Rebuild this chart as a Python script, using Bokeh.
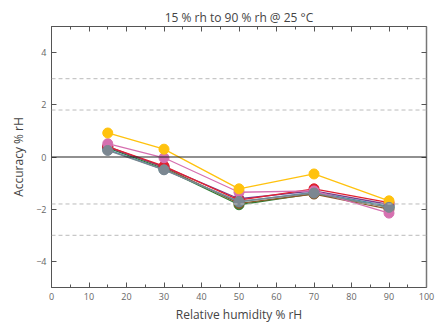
from bokeh.plotting import figure
from bokeh.models import (LinearAxis, Span, Label, SingleIntervalTicker, FixedTicker, Range1d,
                          CustomJSTickFormatter)
from bokeh.embed import file_html
from bokeh.resources import INLINE

humidity = [15, 30, 50, 70, 90]

series_green = [0.35, -0.45, -1.83, -1.40, -1.92]
series_brown = [0.40, -0.40, -1.78, -1.42, -2.00]
series_teal = [0.28, -0.48, -1.72, -1.35, -1.88]
series_purple = [0.38, -0.38, -1.60, -1.30, -1.82]
series_red = [0.40, -0.35, -1.65, -1.22, -1.75]
series_pink = [0.51, -0.03, -1.35, -1.30, -2.15]
series_yellow = [0.92, 0.30, -1.22, -0.65, -1.68]
series_gray = [0.25, -0.49, -1.70, -1.38, -1.93]

series = [series_green, series_brown, series_teal, series_purple,
          series_red, series_pink, series_yellow, series_gray]
colors = ["#2e7d32", "#8b5a2b", "#4a8fa8", "#7b3f8c",
          "#e02030", "#d670b0", "#ffc20e", "#7c8791"]

limit_values = [3, 1.8, -1.8, -3]
limit_labels = ["3", "1.8", "-1.8", "-3"]

left_ticks = [-4, -2, 0, 2, 4]

FONT = "Open Sans"
TXT = "#444444"
AX = "#555555"

p = figure(width=444, height=327, output_backend="svg", toolbar_location=None,
           x_range=Range1d(0, 100), y_range=Range1d(-5, 5),
           title="15 % rh to 90 % rh @ 25 °C",
           min_border_left=51, min_border_right=18, min_border_top=26, min_border_bottom=40)
p.title.align = "center"
p.title.text_font = FONT
p.title.text_font_size = "12px"
p.title.text_font_style = "normal"
p.title.text_color = TXT
p.title.offset = 0
p.title.standoff = 2

p.xgrid.visible = False
p.ygrid.visible = False
p.outline_line_color = None

xt = SingleIntervalTicker(interval=10, num_minor_ticks=2)
yt = FixedTicker(ticks=left_ticks)

for ax in p.xaxis:
    ax.ticker = xt
    ax.axis_label = "Relative humidity % rH"
    ax.axis_label_standoff = 3
for ax in p.yaxis:
    ax.ticker = yt
    ax.axis_label = "Accuracy % rH"
    ax.axis_label_standoff = 6

for ax in list(p.xaxis) + list(p.yaxis):
    ax.major_tick_in = 5
    ax.major_tick_out = 0
    ax.minor_tick_in = 3
    ax.minor_tick_out = 0
    ax.axis_line_color = AX
    ax.major_tick_line_color = AX
    ax.minor_tick_line_color = AX
    ax.major_label_text_font = FONT
    ax.major_label_text_font_size = "9px"
    ax.major_label_text_color = "#666666"
    ax.axis_label_text_font = FONT
    ax.axis_label_text_font_size = "12px"
    ax.axis_label_text_font_style = "normal"
    ax.axis_label_text_color = TXT
    ax.major_label_standoff = 5

blank = CustomJSTickFormatter(code="return ''")

top = LinearAxis(ticker=SingleIntervalTicker(interval=10, num_minor_ticks=2),
                 formatter=blank, major_tick_in=5, major_tick_out=0,
                 minor_tick_in=3, minor_tick_out=0, axis_line_color=AX,
                 major_tick_line_color=AX, minor_tick_line_color=AX,
                 major_label_standoff=0)
p.add_layout(top, "above")
right = LinearAxis(ticker=FixedTicker(ticks=left_ticks), formatter=blank,
                   major_tick_in=5, major_tick_out=0,
                   minor_tick_in=0, minor_tick_out=0, axis_line_color="#777777",
                   axis_line_width=1.5,
                   major_tick_line_color=AX, major_label_standoff=0)
p.add_layout(right, "right")

for v, t in zip(limit_values, limit_labels):
    p.add_layout(Span(location=v, dimension="width", line_color="#bbbbbb",
                      line_dash="4 3", line_width=1))
    p.add_layout(Label(x=100, y=v, text=t, x_offset=3, text_baseline="middle",
                       text_font=FONT, text_font_size="8.5px", text_color="#555555"))

p.add_layout(Span(location=0, dimension="width", line_color="#222222", line_width=1.2))

for ys, c in zip(series, colors):
    p.line(humidity, ys, line_color=c, line_width=1.3)
    p.scatter(humidity, ys, size=10, fill_color=c, line_color=c)

open("out.html", "w").write(file_html(p, INLINE))
